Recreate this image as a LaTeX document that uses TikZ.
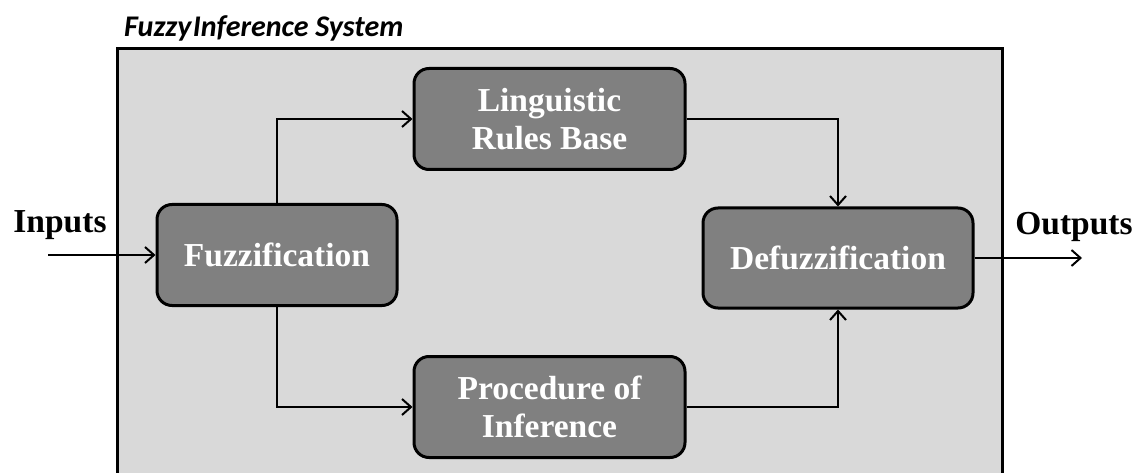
\documentclass[tikz,border=0pt]{standalone}
\usepackage{fontspec}
\setmainfont{Liberation Serif}
\newfontfamily\titlefont{Carlito}
\usetikzlibrary{arrows.meta}
\definecolor{outerfill}{HTML}{D9D9D9}
\definecolor{boxfill}{HTML}{808080}
\tikzset{
  blockbox/.style={draw=black, line width=3pt, fill=boxfill, rounded corners=15pt,
    text=white, font=\fontsize{33.5}{38}\selectfont\bfseries, align=center,
    minimum width=#1, minimum height=101pt, inner sep=0pt},
  blockbox/.default=271pt,
  conn/.style={line width=2pt, -{Straight Barb[length=9pt,width=16pt,line width=2pt]}},
  lbl/.style={font=\fontsize{33.5}{38}\selectfont\bfseries, inner sep=0pt, anchor=base}
}
\begin{document}
\begin{tikzpicture}[x=1pt,y=-1pt]
\useasboundingbox (0,0) rectangle (1138,473);
\fill[outerfill] (117,49) rectangle (1002,473);
\draw[line width=3pt] (117,475) -- (117,49) -- (1002,49) -- (1002,475);
\node[font=\titlefont\fontsize{30}{34}\selectfont\bfseries\itshape, anchor=base west, inner sep=0pt] (title) at (124,37) {Fuzzy\hspace{1.5pt}Inference System};
\node[blockbox=240pt] (fz) at (277,255) {Fuzzification};
\node[blockbox] (lr) at (549.5,119) {Linguistic\\Rules Base};
\node[blockbox] (pi) at (549.5,407) {Procedure of\\Inference};
\node[blockbox=270pt, minimum height=100pt] (dz) at (838,258) {Defuzzification};
\node[lbl] (inp) at (60,233) {Inputs};
\node[lbl] (outp) at (1074,235) {Outputs};
\coordinate (inS) at (48,255);
\coordinate (outE) at (1082,258);
\draw[conn] (inS) -- (fz.west);
\draw[conn] (fz.north) |- (lr.west);
\draw[conn] (fz.south) |- (pi.west);
\draw[conn] (lr.east) -| (dz.north);
\draw[conn] (pi.east) -| (dz.south);
\draw[conn] (dz.east) -- (outE);
\end{tikzpicture}
\end{document}
